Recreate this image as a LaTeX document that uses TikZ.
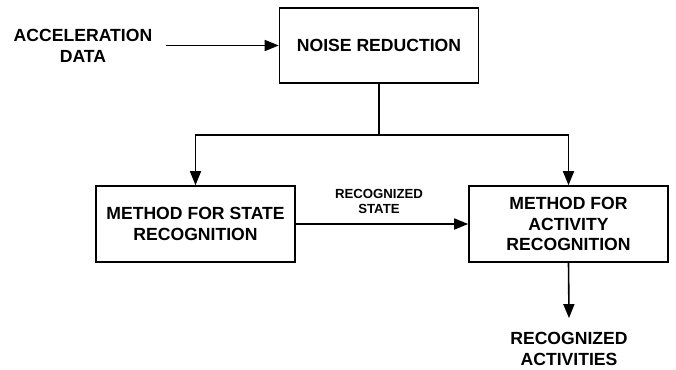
\documentclass[tikz,border=0pt]{standalone}
\usepackage{fontspec}
\setmainfont{Liberation Sans}
\usetikzlibrary{arrows.meta,positioning}
\tikzset{>={Triangle[length=14pt,width=11pt]}}
\tikzset{box/.style={draw, line width=1.6pt, align=center, minimum width=199pt, minimum height=76pt, font=\bfseries\fontsize{17.6}{20.5}\selectfont}}
\tikzset{txt/.style={align=center, font=\bfseries\fontsize{17.6}{21}\selectfont}}
\tikzset{lbl/.style={align=center, font=\bfseries\fontsize{13.2}{15}\selectfont}}
\begin{document}
\begin{tikzpicture}[x=1pt,y=-1pt]
\useasboundingbox (0,0) rectangle (676,369);
\node[txt, inner xsep=14pt] (acc) at (83,45.5) {ACCELERATION\\DATA};
\node[box, minimum height=75pt] (noise) at (379,45.5) {NOISE REDUCTION};
\node[box] (state) at (195.5,224) {METHOD FOR STATE\\RECOGNITION};
\node[box] (activ) at (568.5,224) {METHOD FOR\\ACTIVITY\\RECOGNITION};
\node[lbl] (rstate) at (379,201.5) {RECOGNIZED\\STATE};
\node[txt, inner ysep=14pt] (out) at (569,349) {RECOGNIZED\\ACTIVITIES};
\coordinate (split) at (379,135);
% input and split
\draw[->, line width=1.6pt] (acc.east) -- (noise.west);
\draw[line width=1.6pt] (noise.south) -- (split);
\draw[->, line width=1.6pt] (split) -| (state.north);
\draw[->, line width=1.6pt] (split) -| (activ.north);
% state to activity, output
\draw[->, line width=1.6pt] (state.east) -- (activ.west);
\draw[->, line width=1.6pt] (activ.south) -- (out.north);
\end{tikzpicture}
\end{document}
